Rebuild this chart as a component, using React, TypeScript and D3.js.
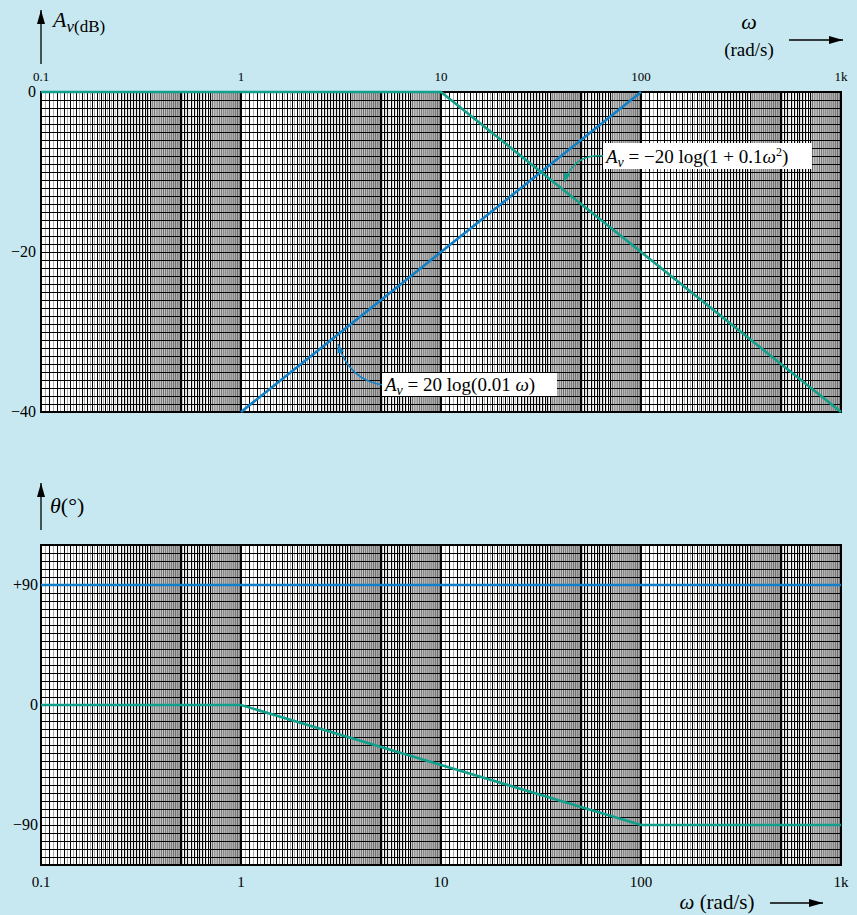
import React from "react";
import * as d3 from "d3";

const W = 857;
const H = 915;

// x axis (rad/s)
const xTicks = [0.1, 1, 10, 100, 1000];
const xTickLabels = ["0.1", "1", "10", "100", "1k"];

// magnitude panel
const magTicks = [0, -20, -40];
const magTickLabels = ["0", "\u221220", "\u221240"];
const tealMagW = [0.1, 10, 1000];
const tealMagDb = [0, 0, -40];
const blueMagW = [1, 100];
const blueMagDb = [-40, 0];

// phase panel
const phTicks = [90, 0, -90];
const phTickLabels = ["+90", "0", "\u221290"];
const bluePhW = [0.1, 1000];
const bluePhDeg = [90, 90];
const tealPhW = [0.1, 1, 100, 1000];
const tealPhDeg = [0, 0, -90, -90];

const TEAL = "#12a08c";
const BLUE = "#1180c8";
const BG = "#c7e8f0";
const FONT = "'Liberation Serif', 'Times New Roman', Tinos, 'DejaVu Serif', serif";

const X0 = 41, X1 = 841;
const x = d3.scaleLog().domain([0.1, 1000]).range([X0, X1]);
const yMag = d3.scaleLinear().domain([0, -40]).range([92, 412]);
const yPh = d3.scaleLinear().domain([120, -120]).range([545, 865]);

function nearestGap(px: number, arr: number[]) {
  let g = 99;
  for (const a of arr) {
    const d = Math.abs(a - px);
    if (d > 1e-6 && d < g) g = d;
  }
  return g;
}

function gridLines() {
  const blackV: number[] = [];
  const grayV: number[] = [];
  const heavy: number[] = [];
  [0.1, 1, 10, 100].forEach((d) => {
    for (let i = 10; i <= 50; i++) {
      const m = i / 10;
      if (i === 10 || i === 50) heavy.push(m * d);
      else blackV.push(m * d);
    }
    for (let i = 52; i < 100; i += 2) blackV.push((i / 10) * d);
    for (let i = 21; i < 100; i += 2) grayV.push((i / 20) * d);
    for (let i = 51; i < 100; i += 2) grayV.push((i / 10) * d);
  });
  heavy.push(1000);
  const bPx = blackV.map((v) => x(v)).concat(heavy.map((v) => x(v)));
  const allPx = bPx.concat(grayV.map((v) => x(v)));
  const black = blackV.map((v) => {
    const px = x(v);
    return { px, gap: nearestGap(px, bPx) };
  });
  const gray = grayV.map((v) => {
    const px = x(v);
    return { px, gap: nearestGap(px, allPx) };
  });
  return { black, gray, heavy };
}

function Panel({ top, bottom }: { top: number; bottom: number }) {
  const { black, gray, heavy } = gridLines();
  const rows = d3.range(41).map((i) => top + (i * (bottom - top)) / 40);
  return (
    <g>
      <rect x={X0} y={top} width={X1 - X0} height={bottom - top} fill="#fff" />
      <g>
        {gray.map((l, i) => {
          const sparse = l.gap >= 1.9;
          const px = sparse ? Math.round(l.px) + 0.5 : l.px;
          return (
            <line key={"g" + i} x1={px} x2={px} y1={top} y2={bottom}
              stroke={sparse ? "#a8a8a8" : "#909090"} strokeWidth={sparse ? 1 : 0.55} />
          );
        })}
      </g>
      <g>
        {black.map((l, i) => {
          const sparse = l.gap >= 2.4;
          const px = sparse ? Math.round(l.px) + 0.5 : l.px;
          return (
            <line key={"b" + i} x1={px} x2={px} y1={top} y2={bottom}
              stroke="#000" strokeWidth={sparse ? 1 : 0.6} />
          );
        })}
      </g>
      <g shapeRendering="crispEdges">
        {rows.map((r, i) => (
          <line key={"r" + i} x1={X0} x2={X1} y1={r} y2={r} stroke="#000" strokeWidth={1} />
        ))}
        {heavy.map((v, i) => (
          <line key={"h" + i} x1={x(v)} x2={x(v)} y1={top} y2={bottom} stroke="#000" strokeWidth={1.6} />
        ))}
        <rect x={X0} y={top} width={X1 - X0} height={bottom - top} fill="none" stroke="#000" strokeWidth={1.2} />
      </g>
    </g>
  );
}

export default function App() {
  const lineMag = d3.line<[number, number]>().x((d) => x(d[0])).y((d) => yMag(d[1]));
  const linePh = d3.line<[number, number]>().x((d) => x(d[0])).y((d) => yPh(d[1]));
  const tealMag = tealMagW.map((w, i) => [w, tealMagDb[i]] as [number, number]);
  const blueMag = blueMagW.map((w, i) => [w, blueMagDb[i]] as [number, number]);
  const bluePh = bluePhW.map((w, i) => [w, bluePhDeg[i]] as [number, number]);
  const tealPh = tealPhW.map((w, i) => [w, tealPhDeg[i]] as [number, number]);

  return (
    <svg width={W} height={H} style={{ position: "absolute", left: 0, top: 0, display: "block", fontFamily: FONT }}>
      <defs>
        <marker id="ah" viewBox="0 0 14 8" refX="14" refY="4" markerWidth="14" markerHeight="8"
          markerUnits="userSpaceOnUse" orient="auto">
          <path d="M0,0 L14,4 L0,8 z" fill="#000" />
        </marker>
        <marker id="ahT" viewBox="0 0 9 7" refX="9" refY="3.5" markerWidth="9" markerHeight="7"
          markerUnits="userSpaceOnUse" orient="auto">
          <path d="M0,0 L9,3.5 L0,7 z" fill={TEAL} />
        </marker>
        <marker id="ahB" viewBox="0 0 9 7" refX="9" refY="3.5" markerWidth="9" markerHeight="7"
          markerUnits="userSpaceOnUse" orient="auto">
          <path d="M0,0 L9,3.5 L0,7 z" fill={BLUE} />
        </marker>
      </defs>
      <rect width={W} height={H} fill={BG} />

      {/* ---- magnitude panel ---- */}
      <Panel top={92} bottom={412} />
      <path d={lineMag(blueMag) || ""} fill="none" stroke={BLUE} strokeWidth={2.6} />
      <path d={lineMag(tealMag) || ""} fill="none" stroke={TEAL} strokeWidth={2.6} />

      {xTicks.map((t, i) => (
        <text key={"xt" + i} x={x(t)} y={81} fontSize={13} textAnchor="middle">{xTickLabels[i]}</text>
      ))}
      {magTicks.map((t, i) => (
        <text key={"my" + i} x={36} y={yMag(t) + 5} fontSize={16} textAnchor="end">{magTickLabels[i]}</text>
      ))}

      {/* y axis title */}
      <line x1={41} y1={64} x2={41} y2={10} stroke="#000" strokeWidth={1.3} markerEnd="url(#ah)" />
      <text x={53} y={27} fontSize={22}>
        <tspan fontStyle="italic">A</tspan>
        <tspan fontSize={17} dy={5} fontStyle="italic">v</tspan>
        <tspan fontSize={17}>(dB)</tspan>
      </text>

      {/* x axis title top */}
      <text x={749} y={29} fontSize={22} textAnchor="middle" fontStyle="italic">ω</text>
      <text x={749} y={56} fontSize={19} textAnchor="middle">(rad/s)</text>
      <line x1={789} y1={40} x2={843} y2={40} stroke="#000" strokeWidth={1.3} markerEnd="url(#ah)" />

      {/* teal annotation */}
      <path d="M603,156 Q575,153 564,182" fill="none" stroke={TEAL} strokeWidth={1.5} markerEnd="url(#ahT)" />
      <rect x={603} y={143} width={209} height={26} fill="#fff" />
      <text x={606} y={163} fontSize={19}>
        <tspan fontStyle="italic">A</tspan>
        <tspan fontSize={14} dy={4} fontStyle="italic">v</tspan>
        <tspan dy={-4}> = −20 log(1 + 0.1</tspan>
        <tspan fontStyle="italic">ω</tspan>
        <tspan fontSize={12} dy={-7}>2</tspan>
        <tspan dy={7}>)</tspan>
      </text>

      {/* blue annotation */}
      <path d="M383,385 Q349,380 338,344" fill="none" stroke={BLUE} strokeWidth={1.5} markerEnd="url(#ahB)" />
      <rect x={382} y={373} width={175} height={23} fill="#fff" />
      <text x={385} y={391} fontSize={19}>
        <tspan fontStyle="italic">A</tspan>
        <tspan fontSize={14} dy={4} fontStyle="italic">v</tspan>
        <tspan dy={-4}> = 20 log(0.01 </tspan>
        <tspan fontStyle="italic">ω</tspan>
        <tspan>)</tspan>
      </text>

      {/* ---- phase panel ---- */}
      <Panel top={545} bottom={865} />
      <path d={linePh(bluePh) || ""} fill="none" stroke={BLUE} strokeWidth={2.6} />
      <path d={linePh(tealPh) || ""} fill="none" stroke={TEAL} strokeWidth={2.6} />

      {phTicks.map((t, i) => (
        <text key={"py" + i} x={38} y={yPh(t) + 5} fontSize={16} textAnchor="end">{phTickLabels[i]}</text>
      ))}
      {xTicks.map((t, i) => (
        <text key={"xb" + i} x={x(t)} y={887} fontSize={15} textAnchor="middle">{xTickLabels[i]}</text>
      ))}

      <line x1={41} y1={530} x2={41} y2={483} stroke="#000" strokeWidth={1.3} markerEnd="url(#ah)" />
      <text x={50} y={513} fontSize={22}>
        <tspan fontStyle="italic">θ</tspan>
        <tspan>(°)</tspan>
      </text>

      <text x={717} y={909} fontSize={21} textAnchor="middle">
        <tspan fontStyle="italic">ω</tspan>
        <tspan> (rad/s)</tspan>
      </text>
      <line x1={770} y1={903} x2={823} y2={903} stroke="#000" strokeWidth={1.3} markerEnd="url(#ah)" />
    </svg>
  );
}
